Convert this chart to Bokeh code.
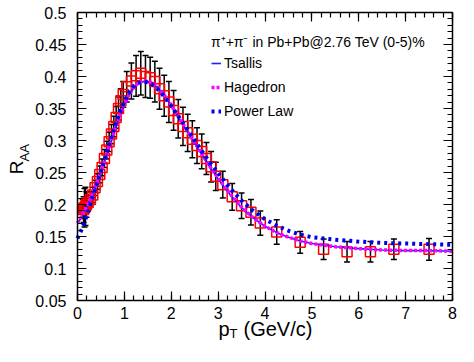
from bokeh.plotting import figure
from bokeh.models import (ColumnDataSource, Whisker, TeeHead, Legend, LegendItem,
                          LinearAxis, SingleIntervalTicker, NumeralTickFormatter,
                          CustomJSTickFormatter, Label)
from bokeh.embed import file_html
from bokeh.resources import INLINE

# ---------------- data ----------------
pt = [0.11, 0.13, 0.15, 0.17, 0.19, 0.225, 0.275, 0.325, 0.375, 0.425, 0.475,
      0.525, 0.575, 0.625, 0.675, 0.725, 0.775, 0.825, 0.875, 0.925, 0.975,
      1.05, 1.15, 1.25, 1.35, 1.45, 1.55, 1.65, 1.75, 1.85, 1.95,
      2.05, 2.15, 2.25, 2.35, 2.45, 2.55, 2.65, 2.75, 2.85, 2.95,
      3.1, 3.3, 3.5, 3.7, 3.9, 4.25, 4.75, 5.25, 5.75, 6.25, 6.75, 7.5]
raa = [0.193, 0.192, 0.195, 0.197, 0.200, 0.203, 0.208, 0.215, 0.226, 0.236, 0.247,
       0.258, 0.272, 0.285, 0.298, 0.310, 0.322, 0.336, 0.350, 0.362, 0.372,
       0.384, 0.393, 0.401, 0.405, 0.400, 0.398, 0.392, 0.381, 0.370, 0.360,
       0.347, 0.334, 0.322, 0.312, 0.302, 0.292, 0.283, 0.272, 0.259, 0.244,
       0.231, 0.212, 0.198, 0.188, 0.171, 0.157, 0.141, 0.130, 0.126, 0.126, 0.130, 0.130]
err = [0.015, 0.020, 0.030, 0.030, 0.020, 0.012, 0.012, 0.012, 0.012, 0.012, 0.013,
       0.013, 0.014, 0.014, 0.015, 0.015, 0.016, 0.017, 0.018, 0.019, 0.020,
       0.024, 0.028, 0.032, 0.034, 0.033, 0.032, 0.032, 0.032, 0.032, 0.032,
       0.031, 0.030, 0.030, 0.029, 0.029, 0.028, 0.027, 0.025, 0.024, 0.022,
       0.021, 0.021, 0.020, 0.020, 0.019, 0.019, 0.017, 0.016, 0.016, 0.016, 0.016, 0.017]

pt_fit = [0.0, 0.1, 0.2, 0.3, 0.4, 0.5, 0.6, 0.7, 0.8, 0.9, 1.0, 1.1, 1.2, 1.3, 1.4,
          1.5, 1.6, 1.7, 1.8, 1.9, 2.0, 2.2, 2.4, 2.6, 2.8, 3.0, 3.25, 3.5, 3.75,
          4.0, 4.25, 4.5, 4.75, 5.0, 5.5, 6.0, 6.5, 7.0, 7.5, 8.0]
tsallis = [0.170, 0.182, 0.197, 0.213, 0.231, 0.251, 0.272, 0.295, 0.317, 0.338, 0.356,
           0.371, 0.382, 0.389, 0.392, 0.392, 0.389, 0.383, 0.375, 0.365, 0.354,
           0.331, 0.307, 0.284, 0.261, 0.240, 0.216, 0.195, 0.179, 0.166, 0.156,
           0.149, 0.143, 0.139, 0.134, 0.131, 0.129, 0.128, 0.128, 0.127]
hagedorn = [0.171, 0.183, 0.198, 0.214, 0.232, 0.252, 0.273, 0.296, 0.318, 0.339, 0.357,
            0.372, 0.383, 0.390, 0.393, 0.393, 0.390, 0.384, 0.376, 0.366, 0.355,
            0.332, 0.308, 0.285, 0.262, 0.241, 0.217, 0.196, 0.179, 0.166, 0.156,
            0.149, 0.143, 0.139, 0.134, 0.131, 0.129, 0.128, 0.128, 0.127]
powerlaw = [0.147, 0.163, 0.183, 0.205, 0.228, 0.252, 0.276, 0.300, 0.323, 0.344, 0.361,
            0.375, 0.385, 0.390, 0.392, 0.391, 0.387, 0.381, 0.373, 0.364, 0.354,
            0.333, 0.311, 0.289, 0.268, 0.249, 0.226, 0.206, 0.190, 0.177, 0.167,
            0.159, 0.153, 0.149, 0.145, 0.142, 0.140, 0.139, 0.138, 0.137]

x_min, x_max = 0, 8
y_min, y_max = 0.05, 0.5
x_ticks_interval = 1
y_ticks_interval = 0.05
legend_title = "\u03c0\u207a+\u03c0\u207b in Pb+Pb@2.76 TeV (0-5)%"
FONT = "Liberation Sans"

# ---------------- layout (pixels) ----------------
W, H = 458, 346
fl, fr, ft, fb = 77, 452, 12, 300          # wanted box edges in canvas pixels
xs = (x_max - x_min) / (fr - fl)
ys = (y_max - y_min) / (fb - ft)
x_range = (x_min - fl * xs, x_max + (W - fr) * xs)
y_range = (y_min - (H - fb) * ys, y_max + ft * ys)

p = figure(width=W, height=H, x_range=x_range, y_range=y_range,
           output_backend="svg", toolbar_location=None,
           min_border=0, min_border_left=0, min_border_right=0,
           min_border_top=0, min_border_bottom=0)
p.xgrid.visible = False
p.ygrid.visible = False
p.outline_line_color = None
p.background_fill_color = "white"
p.border_fill_color = "white"

xt = SingleIntervalTicker(interval=x_ticks_interval, num_minor_ticks=5)
yt = SingleIntervalTicker(interval=y_ticks_interval, num_minor_ticks=5)

def style_axis(ax, ticker, fmt, bounds, loc):
    ax.ticker = ticker
    ax.formatter = fmt
    ax.bounds = bounds
    ax.fixed_location = loc
    ax.major_tick_in = 9
    ax.major_tick_out = 0
    ax.minor_tick_in = 5
    ax.minor_tick_out = 0
    ax.axis_line_color = "black"
    ax.axis_line_width = 1.5
    ax.major_tick_line_color = "black"
    ax.minor_tick_line_color = "black"
    ax.major_tick_line_width = 1.2
    ax.minor_tick_line_width = 1.2
    ax.major_label_text_font = FONT
    ax.major_label_text_color = "black"
    ax.major_label_text_font_size = "16px"

blank = CustomJSTickFormatter(code="return ''")
style_axis(p.xaxis[0], xt, NumeralTickFormatter(format="0"), (x_min, x_max), y_min)
style_axis(p.yaxis[0], yt, NumeralTickFormatter(format="0.[00]"), (y_min, y_max), x_min)
p.xaxis[0].major_label_standoff = 6
p.yaxis[0].major_label_standoff = 11

ax_r = LinearAxis()
style_axis(ax_r, yt, blank, (y_min, y_max), x_max)
ax_r.major_label_standoff = 0
ax_r.major_label_text_font_size = "1px"
p.add_layout(ax_r, "right")
ax_t = LinearAxis()
style_axis(ax_t, xt, blank, (x_min, x_max), y_max)
ax_t.major_label_standoff = 0
ax_t.major_label_text_font_size = "1px"
p.add_layout(ax_t, "above")

# ---------------- data marks ----------------
src = ColumnDataSource(data=dict(
    x=pt, y=raa,
    upper=[v + e for v, e in zip(raa, err)],
    lower=[v - e for v, e in zip(raa, err)]))
wh = Whisker(base="x", upper="upper", lower="lower", source=src,
             line_color="black", line_width=1.5,
             upper_head=TeeHead(size=6, line_color="black", line_width=1.5),
             lower_head=TeeHead(size=6, line_color="black", line_width=1.5))
p.add_layout(wh)
p.scatter("x", "y", source=src, marker="square", size=10, fill_color=None,
          line_color="#ff0000", line_width=1.5)

r_ts = p.line(pt_fit, tsallis, line_color="#2020ff", line_width=1.6)
r_hg = p.line(pt_fit, hagedorn, line_color="#ff00ff", line_width=3.5, line_dash="3 2")
r_pl = p.line(pt_fit, powerlaw, line_color="#0000f0", line_width=4, line_dash="3 4")

legend = Legend(items=[LegendItem(label="Tsallis", renderers=[r_ts]),
                       LegendItem(label="Hagedron", renderers=[r_hg]),
                       LegendItem(label="Power Law", renderers=[r_pl])],
                location=(211, 225), title=legend_title,
                title_text_font=FONT, title_text_font_size="14px",
                title_text_font_style="normal", title_text_color="black",
                title_standoff=2,
                label_text_font=FONT, label_text_font_size="14px", label_text_color="black",
                glyph_width=10, glyph_height=20, label_height=20, spacing=4,
                label_standoff=3, padding=0, margin=0,
                border_line_alpha=0, background_fill_alpha=0)
p.add_layout(legend)

# ---------------- axis titles (with subscripts) ----------------
def lab(x, y, text, size, **kw):
    p.add_layout(Label(x=x, y=y, x_units="screen", y_units="screen", text=text,
                       text_baseline="alphabetic", text_font=FONT,
                       text_font_size=size, text_color="black", **kw))

lab(16, 186, "R", "19px", angle=1.5708, text_align="right")
lab(24, 185, "AA", "13px", angle=1.5708, text_align="left")
lab(218, 18, "p", "20px", text_align="left")
lab(229, 13, "T", "13px", text_align="left")
lab(243, 18, "(GeV/c)", "20px", text_align="left")

open("out.html", "w").write(file_html(p, INLINE))
